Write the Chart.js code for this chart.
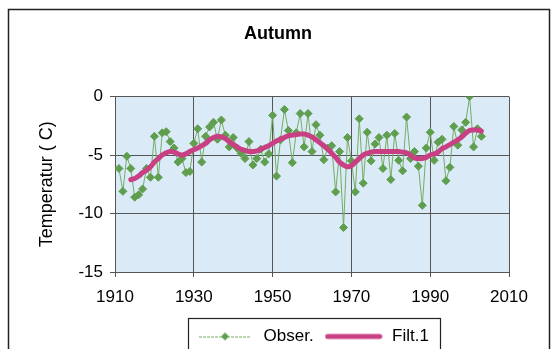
<!DOCTYPE html>
<html>
<head>
<meta charset="utf-8">
<script src="https://cdn.jsdelivr.net/npm/chart.js@4.4.1/dist/chart.umd.min.js"></script>
<style>
html,body{margin:0;padding:0;background:#fff;}
#wrap{width:556px;height:349px;position:relative;}
</style>
</head>
<body>
<div id="wrap"><canvas id="c" width="556" height="349"></canvas></div>
<script>
const chartTitle = 'Autumn';
const yAxisTitle = 'Temperatur ( C)';
const seriesNames = ['Obser.', 'Filt.1'];
const xTickValues = [1910, 1930, 1950, 1970, 1990, 2010];
const yTickValues = [-15, -10, -5, 0];

const obsYears = [1911,1912,1913,1914,1915,1916,1917,1918,1919,1920,
  1921,1922,1923,1924,1925,1926,1927,1928,1929,1930,
  1931,1932,1933,1934,1935,1936,1937,1938,1939,1940,
  1941,1942,1943,1944,1945,1946,1947,1948,1949,1950,
  1951,1952,1953,1954,1955,1956,1957,1958,1959,1960,
  1961,1962,1963,1964,1965,1966,1967,1968,1969,1970,
  1971,1972,1973,1974,1975,1976,1977,1978,1979,1980,
  1981,1982,1983,1984,1985,1986,1987,1988,1989,1990,
  1991,1992,1993,1994,1995,1996,1997,1998,1999,2000,
  2001,2002,2003];
const obsValues = [-6.15,-8.1,-5.1,-6.15,-8.6,-8.4,-7.9,-6.15,-6.9,-3.4,
  -6.9,-3.1,-3.0,-3.85,-4.4,-5.6,-5.3,-6.5,-6.4,-4.0,
  -2.75,-5.6,-3.4,-2.6,-2.2,-3.65,-2.0,-3.3,-4.3,-3.5,
  -4.4,-4.85,-5.3,-3.85,-5.85,-5.3,-4.5,-5.6,-4.9,-1.6,
  -6.8,-3.7,-1.1,-2.9,-5.65,-3.1,-1.45,-4.3,-1.45,-4.7,
  -2.4,-3.3,-5.4,-4.4,-4.2,-8.15,-4.7,-11.2,-3.5,-5.5,
  -8.15,-1.9,-7.4,-3.05,-5.5,-4.05,-3.5,-6.15,-3.3,-7.1,
  -3.15,-5.45,-6.35,-1.75,-5.3,-4.7,-5.95,-9.3,-4.4,-3.05,
  -5.45,-3.9,-3.65,-7.2,-6.05,-2.55,-4.15,-2.85,-2.2,0.0,
  -4.3,-2.75,-3.4];

const filtYears = [1914,1915,1916,1917,1918,1919,1920,
  1921,1922,1923,1924,1925,1926,1927,1928,1929,1930,
  1931,1932,1933,1934,1935,1936,1937,1938,1939,1940,
  1941,1942,1943,1944,1945,1946,1947,1948,1949,1950,
  1951,1952,1953,1954,1955,1956,1957,1958,1959,1960,
  1961,1962,1963,1964,1965,1966,1967,1968,1969,1970,
  1971,1972,1973,1974,1975,1976,1977,1978,1979,1980,
  1981,1982,1983,1984,1985,1986,1987,1988,1989,1990,
  1991,1992,1993,1994,1995,1996,1997,1998,1999,2000,
  2001,2002,2003];
const filtValues = [-7.1,-7.0,-6.8,-6.5,-6.3,-6.0,-5.6,
  -5.3,-5.0,-4.8,-4.7,-4.75,-4.9,-5.0,-4.9,-4.7,-4.55,
  -4.4,-4.2,-4.0,-3.7,-3.5,-3.4,-3.45,-3.6,-3.85,-4.1,
  -4.3,-4.5,-4.6,-4.7,-4.7,-4.65,-4.5,-4.35,-4.2,-4.0,
  -3.8,-3.65,-3.5,-3.35,-3.3,-3.25,-3.2,-3.2,-3.3,-3.45,
  -3.7,-3.95,-4.2,-4.5,-4.85,-5.2,-5.6,-5.85,-6.0,-5.9,
  -5.6,-5.3,-5.0,-4.85,-4.75,-4.7,-4.7,-4.7,-4.7,-4.7,
  -4.7,-4.7,-4.75,-4.8,-5.0,-5.25,-5.3,-5.3,-5.2,-5.0,
  -4.9,-4.75,-4.45,-4.3,-4.1,-3.9,-3.7,-3.45,-3.15,-2.9,
  -2.85,-2.85,-2.95];

const FONT = '"Liberation Sans", Arial, Helvetica, sans-serif';
const OBS_LINE = '#74ad64';
const OBS_MARK = '#5f9e4f';
const FILT_COL = '#c93f83';
const GRID_COL = '#555555';

function obsLegendImage(){
  const c = document.createElement('canvas');
  c.width = 52; c.height = 12;
  const g = c.getContext('2d');
  g.strokeStyle = OBS_LINE; g.lineWidth = 1;
  g.setLineDash([3,1]);
  g.beginPath(); g.moveTo(0,6.5); g.lineTo(52,6.5); g.stroke();
  g.setLineDash([]);
  g.fillStyle = OBS_MARK;
  g.beginPath(); g.moveTo(26,2); g.lineTo(30,6); g.lineTo(26,10); g.lineTo(22,6); g.closePath(); g.fill();
  return c;
}
function filtLegendImage(){
  const c = document.createElement('canvas');
  c.width = 58; c.height = 10;
  const g = c.getContext('2d');
  g.strokeStyle = FILT_COL; g.lineWidth = 5; g.lineCap = 'round';
  g.beginPath(); g.moveTo(3,5); g.lineTo(55,5); g.stroke();
  return c;
}
const legendImages = [obsLegendImage(), filtLegendImage()];

const decor = {
  id: 'decor',
  beforeDraw(chart){
    const {ctx, chartArea:a} = chart;
    ctx.save();
    ctx.fillStyle = '#ffffff';
    ctx.fillRect(0,0,chart.width,chart.height);
    ctx.fillStyle = '#daeaf6';
    ctx.fillRect(a.left, a.top, a.right-a.left, a.bottom-a.top);
    ctx.restore();
  },
  afterDraw(chart){
    const {ctx} = chart;
    ctx.save();
    ctx.strokeStyle = '#222';
    ctx.lineWidth = 1.5;
    ctx.strokeRect(8.5, 9.5, 541, 400);
    const lg = chart.legend;
    if (lg && lg.legendHitBoxes && lg.legendHitBoxes.length){
      const hb = lg.legendHitBoxes;
      const l = hb[0].left - 7;
      const last = hb[hb.length-1];
      const r = last.left + last.width + 11;
      const t = Math.round(lg.top) + 0.5;
      ctx.lineWidth = 1.2;
      ctx.strokeRect(Math.round(l)+0.5, t, Math.round(r-l), 60);
    }
    ctx.restore();
  }
};

const ctx = document.getElementById('c').getContext('2d');
new Chart(ctx, {
  type: 'line',
  data: {
    datasets: [
      {
        label: seriesNames[0],
        data: obsYears.map((x,i)=>({x:x, y:obsValues[i]})),
        borderColor: OBS_LINE,
        borderWidth: 1,
        pointStyle: 'rectRot',
        pointRadius: 4,
        pointBackgroundColor: OBS_MARK,
        pointBorderColor: OBS_MARK,
        pointBorderWidth: 1,
        tension: 0,
        order: 1
      },
      {
        label: seriesNames[1],
        data: filtYears.map((x,i)=>({x:x, y:filtValues[i]})),
        borderColor: FILT_COL,
        borderWidth: 5,
        borderCapStyle: 'round',
        borderJoinStyle: 'round',
        pointRadius: 0,
        tension: 0.4,
        order: 0
      }
    ]
  },
  options: {
    responsive: false,
    animation: false,
    devicePixelRatio: 1,
    layout: { padding: { left: 10, right: 10, top: 10, bottom: -6 } },
    plugins: {
      title: {
        display: true,
        text: chartTitle,
        color: '#000',
        font: { family: FONT, size: 18, weight: 'bold' },
        padding: { top: 13, bottom: 52 }
      },
      legend: {
        display: true,
        position: 'bottom',
        fullSize: false,
        labels: {
          color: '#000',
          font: { family: FONT, size: 17 },
          usePointStyle: true,
          pointStyleWidth: 60,
          padding: 10,
          sort: (a,b) => a.datasetIndex - b.datasetIndex,
          generateLabels(chart){
            const items = Chart.defaults.plugins.legend.labels.generateLabels(chart);
            items.forEach(it => { it.pointStyle = legendImages[it.datasetIndex]; });
            return items;
          }
        }
      },
      tooltip: { enabled: false }
    },
    scales: {
      x: {
        type: 'linear',
        min: xTickValues[0],
        max: xTickValues[xTickValues.length-1],
        afterBuildTicks(s){ s.ticks = xTickValues.map(v=>({value:v})); },
        ticks: {
          color: '#000',
          font: { family: FONT, size: 17 },
          padding: 10,
          maxRotation: 0,
          autoSkip: false,
          callback: v => String(v)
        },
        grid: { color: GRID_COL, tickLength: 5, lineWidth: 1 },
        border: { color: GRID_COL },
        afterFit(s){ s.height = 46; }
      },
      y: {
        type: 'linear',
        min: yTickValues[0],
        max: yTickValues[yTickValues.length-1],
        afterBuildTicks(s){ s.ticks = yTickValues.map(v=>({value:v})); },
        ticks: {
          color: '#000',
          font: { family: FONT, size: 17 },
          padding: 7
        },
        grid: { color: GRID_COL, tickLength: 5, lineWidth: 1 },
        border: { color: GRID_COL },
        title: {
          display: true,
          text: yAxisTitle,
          color: '#000',
          font: { family: FONT, size: 18 },
          padding: { top: 26, bottom: 0 }
        },
        afterFit(s){ s.width = 105; }
      },
      y2: {
        type: 'linear',
        position: 'right',
        display: true,
        grid: { display: false, drawTicks: false },
        ticks: { display: false },
        border: { display: false },
        afterFit(s){ s.width = 37; }
      }
    }
  },
  plugins: [decor]
});
</script>
</body>
</html>
